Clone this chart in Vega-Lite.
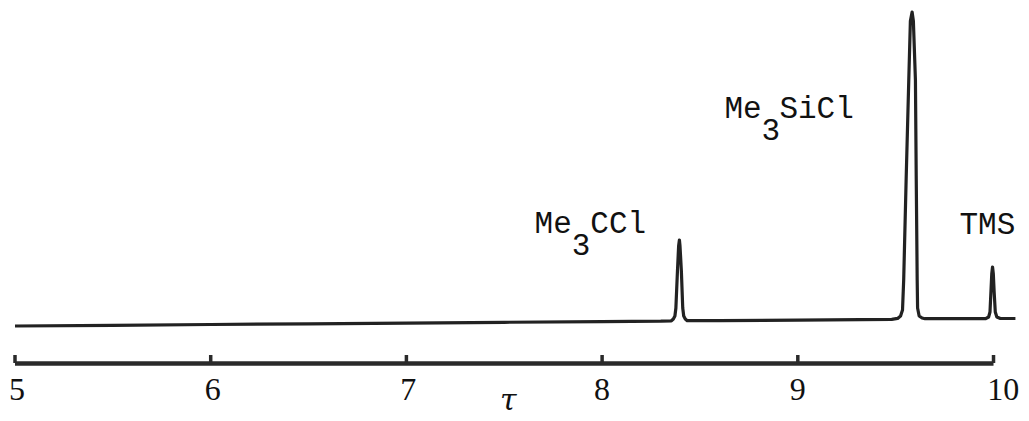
{
  "$schema": "https://vega.github.io/schema/vega-lite/v6.json",
  "width": 1002,
  "height": 421,
  "autosize": {"type": "none"},
  "padding": {"left": 15, "top": 0, "right": 12, "bottom": 0},
  "background": "white",
  "config": {"view": {"stroke": null}},
  "datasets": {
    "spectrum": [
      {"tau": 5.0, "v": 0}, {"tau": 5.5, "v": 0.7}, {"tau": 6.0, "v": 1.5}, {"tau": 6.5, "v": 2.2},
      {"tau": 7.0, "v": 2.9}, {"tau": 7.5, "v": 3.7}, {"tau": 8.0, "v": 4.4}, {"tau": 8.3, "v": 4.8},
      {"tau": 8.354, "v": 5.2}, {"tau": 8.364, "v": 7}, {"tau": 8.372, "v": 10}, {"tau": 8.377, "v": 18},
      {"tau": 8.385, "v": 55}, {"tau": 8.391, "v": 80}, {"tau": 8.395, "v": 86}, {"tau": 8.398, "v": 80},
      {"tau": 8.405, "v": 55}, {"tau": 8.412, "v": 18}, {"tau": 8.417, "v": 10}, {"tau": 8.425, "v": 7},
      {"tau": 8.435, "v": 5.3}, {"tau": 8.6, "v": 5.3}, {"tau": 9.0, "v": 5.9}, {"tau": 9.48, "v": 6.6},
      {"tau": 9.51, "v": 7.6}, {"tau": 9.525, "v": 10}, {"tau": 9.535, "v": 16}, {"tau": 9.541, "v": 46},
      {"tau": 9.554, "v": 150}, {"tau": 9.567, "v": 246}, {"tau": 9.5752, "v": 305}, {"tau": 9.584, "v": 314},
      {"tau": 9.5905, "v": 305}, {"tau": 9.601, "v": 246}, {"tau": 9.605, "v": 150}, {"tau": 9.610, "v": 46},
      {"tau": 9.612, "v": 18}, {"tau": 9.62, "v": 10}, {"tau": 9.635, "v": 8}, {"tau": 9.65, "v": 7.3},
      {"tau": 9.96, "v": 7.3}, {"tau": 9.975, "v": 9}, {"tau": 9.982, "v": 14}, {"tau": 9.987, "v": 35},
      {"tau": 9.991, "v": 52}, {"tau": 9.995, "v": 59}, {"tau": 9.999, "v": 52}, {"tau": 10.003, "v": 35},
      {"tau": 10.009, "v": 14}, {"tau": 10.017, "v": 9}, {"tau": 10.035, "v": 7.5}, {"tau": 10.112, "v": 7.5}
    ],
    "ticks": [{"tau": 5}, {"tau": 6}, {"tau": 7}, {"tau": 8}, {"tau": 9}, {"tau": 10}],
    "tickLabels": [
      {"pos": 5.01, "label": "5"}, {"pos": 6.01, "label": "6"}, {"pos": 7.01, "label": "7"},
      {"pos": 8.0, "label": "8"}, {"pos": 9.0, "label": "9"}, {"pos": 10.05, "label": "10"}
    ],
    "peakLabels": [
      {"tau": 7.655, "v": 93, "text": "Me"}, {"tau": 7.845, "v": 71, "text": "3"}, {"tau": 7.94, "v": 93, "text": "CCl"},
      {"tau": 8.625, "v": 208, "text": "Me"}, {"tau": 8.814, "v": 186, "text": "3"}, {"tau": 8.906, "v": 208, "text": "SiCl"},
      {"tau": 9.826, "v": 92, "text": "TMS"}
    ]
  },
  "layer": [
    {
      "data": {"values": [{"a": 5, "b": 10, "v": -37.5}]},
      "mark": {"type": "rule", "strokeWidth": 4.5, "color": "#2a2a2a"},
      "encoding": {
        "x": {"field": "a", "type": "quantitative", "scale": {"domain": [5, 10.12]}, "axis": null},
        "x2": {"field": "b"},
        "y": {"field": "v", "type": "quantitative", "scale": {"domain": [-95, 326]}, "axis": null}
      }
    },
    {
      "data": {"name": "ticks"},
      "mark": {"type": "rule", "strokeWidth": 3.5, "color": "#2a2a2a"},
      "encoding": {
        "x": {"field": "tau", "type": "quantitative", "scale": {"domain": [5, 10.12]}, "axis": null},
        "y": {"datum": -37, "type": "quantitative", "scale": {"domain": [-95, 326]}, "axis": null},
        "y2": {"datum": -29}
      }
    },
    {
      "data": {"name": "spectrum"},
      "mark": {"type": "line", "strokeWidth": 3.2, "color": "#222222", "strokeJoin": "round"},
      "encoding": {
        "x": {"field": "tau", "type": "quantitative", "scale": {"domain": [5, 10.12]}, "axis": null},
        "y": {"field": "v", "type": "quantitative", "scale": {"domain": [-95, 326]}, "axis": null}
      }
    },
    {
      "data": {"name": "tickLabels"},
      "mark": {"type": "text", "font": "Liberation Serif", "fontSize": 32, "color": "#111111", "align": "center", "baseline": "alphabetic"},
      "encoding": {
        "x": {"field": "pos", "type": "quantitative", "scale": {"domain": [5, 10.12]}, "axis": null},
        "y": {"datum": -74, "type": "quantitative", "scale": {"domain": [-95, 326]}, "axis": null},
        "text": {"field": "label"}
      }
    },
    {
      "data": {"values": [{"tau": 7.52, "v": -84, "text": "τ"}]},
      "mark": {"type": "text", "font": "DejaVu Serif", "fontStyle": "italic", "fontSize": 30, "color": "#111111", "align": "center", "baseline": "alphabetic"},
      "encoding": {
        "x": {"field": "tau", "type": "quantitative", "scale": {"domain": [5, 10.12]}, "axis": null},
        "y": {"field": "v", "type": "quantitative", "scale": {"domain": [-95, 326]}, "axis": null},
        "text": {"field": "text"}
      }
    },
    {
      "data": {"name": "peakLabels"},
      "mark": {"type": "text", "font": "Liberation Mono", "fontSize": 31, "color": "#111111", "align": "left", "baseline": "alphabetic"},
      "encoding": {
        "x": {"field": "tau", "type": "quantitative", "scale": {"domain": [5, 10.12]}, "axis": null},
        "y": {"field": "v", "type": "quantitative", "scale": {"domain": [-95, 326]}, "axis": null},
        "text": {"field": "text"}
      }
    }
  ]
}
